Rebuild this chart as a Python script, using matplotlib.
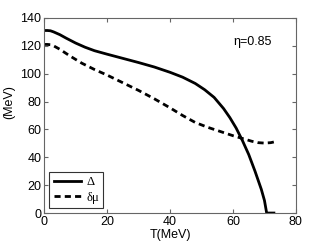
import numpy as np
import matplotlib.pyplot as plt

plt.rcParams['font.family'] = ['Liberation Sans', 'DejaVu Sans']

# gap (solid) and delta mu (dashed), MeV vs T (MeV)
t_gap = [0, 1, 2, 3, 5, 7, 10, 13, 16, 20, 25, 30, 35, 40, 44, 48, 51, 54, 57,
         59, 61, 63, 65, 67, 69, 70, 70.7, 73]
gap = [131, 131, 130.8, 130, 128, 125.5, 122, 119, 116.5, 114, 111, 108, 104.8,
       101, 97.5, 93, 88.5, 83, 75, 68.5, 61, 52, 42, 30, 17, 9, 0, 0]

t_dmu = [0, 1, 2, 3, 5, 8, 12, 16, 20, 25, 30, 35, 40, 44, 48, 52, 56, 60, 63,
         66, 68, 70, 72, 73]
dmu = [121, 121, 120.8, 120, 117.5, 113, 107.5, 103, 99, 93.5, 88, 82, 75.5,
       70, 65, 61.5, 58.5, 55.5, 53.5, 51.5, 50.5, 50.2, 50.5, 51]

eta_label = '\u03b7=0.85'

fig = plt.figure(figsize=(3.27, 2.46), dpi=100)
ax = fig.add_axes([0.135, 0.134, 0.77, 0.793])

ax.plot(t_gap, gap, color='black', lw=2.0, label='\u0394')
ax.plot(t_dmu, dmu, color='black', lw=2.0, ls=(0, (2.2, 1.5)), label='\u03b4\u03bc')

ax.set_xlim(0, 80)
ax.set_ylim(0, 140)
ax.set_xticks([0, 20, 40, 60, 80])
ax.set_yticks(np.arange(0, 141, 20))
ax.tick_params(direction='in', top=True, right=True, labelsize=9, length=3,
               color='#666666', pad=2)
for s in ax.spines.values():
    s.set_color('#666666')
    s.set_linewidth(0.8)

ax.set_xlabel('T(MeV)', fontsize=9, labelpad=1)
ax.set_ylabel('(MeV)', fontsize=9)
ax.yaxis.set_label_coords(-0.115, 0.57)
ax.text(66.3, 123, eta_label, fontsize=9, ha='center', va='center')

leg = ax.legend(loc='lower left', frameon=True, fancybox=False,
                prop={'family': ['Liberation Serif', 'DejaVu Serif'], 'size': 9},
                edgecolor='black', handlelength=2.2, borderaxespad=0.4,
                labelspacing=0.3, borderpad=0.35, handletextpad=0.4)
leg.get_frame().set_linewidth(0.8)

fig.savefig('out.png', dpi=100)
